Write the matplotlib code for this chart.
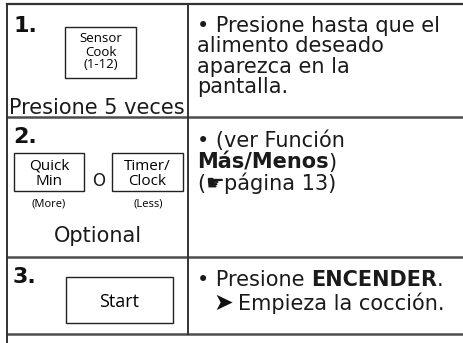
import matplotlib.pyplot as plt
from matplotlib.patches import Rectangle

# contenido de la tabla
step_labels = ['1.', '2.', '3.']
step_captions = ['Presione 5 veces', 'Optional']
sensor_button = ['Sensor', 'Cook', '(1-12)']
quick_button = ['Quick', 'Min']
timer_button = ['Timer/', 'Clock']
more_less = ['(More)', '(Less)']
start_button = 'Start'
step1_lines = ['• Presione hasta que el', 'alimento deseado', 'aparezca en la', 'pantalla.']
step2_lines = [[('• (ver Función', 'normal')],
               [('Más/Menos', 'bold'), (')', 'normal')],
               [('(', 'normal'), ('☛', 'normal'), ('página 13)', 'normal')]]
step3_line1 = [('• Presione ', 'normal'), ('ENCENDER', 'bold'), ('.', 'normal')]
step3_arrow = '➤'
step3_line2 = 'Empieza la cocción.'

FAM = ['DejaVu Sans']
BTN = 'Open Sans'
BIG = 15
TXT = '#1a1a1a'
LINE = '#333333'

fig = plt.figure(figsize=(4.63, 3.43), dpi=100)
ax = fig.add_axes([0, 0, 1, 1])
ax.set_xlim(0, 463)
ax.set_ylim(343, 0)
ax.axis('off')
renderer = fig.canvas.get_renderer()


def width(s, size, weight):
    # ancho con espacios finales incluidos
    t1 = ax.text(0, 0, s + 'I', fontsize=size, fontweight=weight, family=FAM)
    t2 = ax.text(0, 0, 'I', fontsize=size, fontweight=weight, family=FAM)
    w = t1.get_window_extent(renderer).width - t2.get_window_extent(renderer).width
    t1.remove()
    t2.remove()
    return w


def runs(x, y, parts, size=BIG):
    for s, w in parts:
        ax.text(x, y, s, fontsize=size, fontweight=w, family=FAM, va='baseline', color=TXT)
        x += width(s, size, w)


# lineas de la tabla
ax.plot([7, 463], [4, 4], color=LINE, lw=1.6)
for yy in [117, 257, 334]:
    ax.plot([7, 463], [yy, yy], color='#4d4d4d', lw=1.8)
ax.plot([7.3, 7.3], [4, 343], color=LINE, lw=1.4)
ax.plot([187.5, 187.5], [4, 334], color=LINE, lw=1.4)

# numeros de paso
for lab, yb in zip(step_labels, [31.5, 143, 283]):
    ax.text(13, yb, lab, fontsize=16, fontweight='bold', family=FAM, va='baseline', color='#111111')

# paso 1
ax.add_patch(Rectangle((65, 27), 71, 51, fill=False, ec='#222222', lw=1))
for s, yb in zip(sensor_button, [42.5, 55.5, 68]):
    ax.text(100.5, yb, s, fontsize=9.5, family=BTN, ha='center', va='baseline')
ax.text(96.5, 114.5, step_captions[0], fontsize=BIG, family=FAM, ha='center', va='baseline', color=TXT)

# paso 2
ax.add_patch(Rectangle((14, 153), 70, 38, fill=False, ec='#222222', lw=1))
ax.add_patch(Rectangle((112, 153), 71, 38, fill=False, ec='#222222', lw=1))
for s, yb in zip(quick_button, [169.5, 185]):
    ax.text(49, yb, s, fontsize=11, family=BTN, ha='center', va='baseline')
for s, yb in zip(timer_button, [169.5, 185]):
    ax.text(147.5, yb, s, fontsize=11, family=BTN, ha='center', va='baseline')
ax.text(99, 185.5, 'O', fontsize=12, family=FAM, ha='center', va='baseline', color=TXT)
ax.text(49, 207, more_less[0], fontsize=8, family=BTN, ha='center', va='baseline')
ax.text(148, 207, more_less[1], fontsize=8, family=BTN, ha='center', va='baseline')
ax.text(98, 241.5, step_captions[1], fontsize=BIG, family=FAM, ha='center', va='baseline', color=TXT)

# paso 3
ax.add_patch(Rectangle((66, 277), 107, 46, fill=False, ec='#222222', lw=1))
ax.text(119.5, 307, start_button, fontsize=13, family=BTN, ha='center', va='baseline')

# columna derecha
for s, yb in zip(step1_lines, [32, 52.3, 72.6, 93]):
    ax.text(197, yb, s, fontsize=BIG, family=FAM, va='baseline', color=TXT)
for parts, yb in zip(step2_lines, [147, 169, 190]):
    runs(197, yb, parts)
runs(197, 286, step3_line1)
ax.text(213, 309.5, step3_arrow, fontsize=17, family=FAM, va='baseline', color='#111111')
ax.text(238, 309.5, step3_line2, fontsize=BIG, family=FAM, va='baseline', color=TXT)

fig.savefig('out.png', dpi=100)
